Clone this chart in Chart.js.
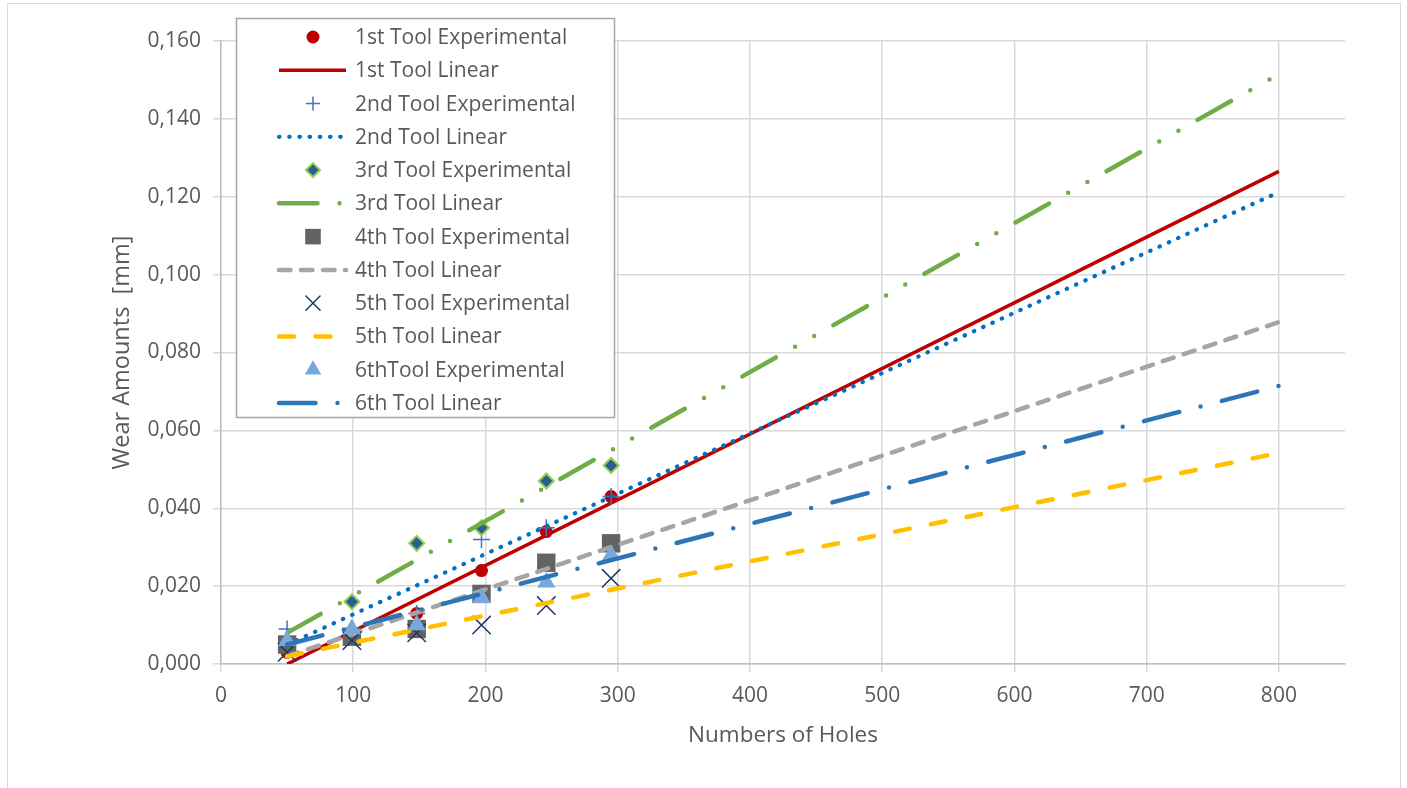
<!DOCTYPE html>
<html>
<head>
<meta charset="utf-8">
<title>Wear Amounts vs Numbers of Holes</title>
<script src="https://cdn.jsdelivr.net/npm/chart.js@4.4.1/dist/chart.umd.min.js"></script>
<style>
  html, body { margin: 0; padding: 0; background: #fff; overflow: hidden; }
  #frame { position: absolute; left: 7px; top: 3px; width: 1392px; height: 800px; border: 1px solid #D9D9D9; }
  canvas { position: absolute; left: 0; top: 0; }
</style>
</head>
<body>
<div id="frame"></div>
<canvas id="wearChart" width="1407" height="788"></canvas>
<script>
// Measured points (numbers of holes -> wear in mm)
const holes = [50, 99, 148, 197, 246, 295];
const tool1 = [0.003, 0.007, 0.013, 0.024, 0.034, 0.043];
const tool2 = [0.009, 0.008, 0.013, 0.032, 0.035, 0.043];
const tool3 = [0.006, 0.016, 0.031, 0.035, 0.047, 0.051];
const tool4 = [0.005, 0.007, 0.009, 0.018, 0.026, 0.031];
const tool5 = [0.003, 0.006, 0.008, 0.010, 0.015, 0.022];
const tool6 = [0.006, 0.009, 0.010, 0.017, 0.021, 0.028];

// Linear trend lines, read at both ends
const fitX = [50, 800];
const fit1 = [0.000, 0.1265];
const fit2 = [0.005, 0.1212];
const fit3 = [0.008, 0.1515];
const fit4 = [0.002, 0.0878];
const fit5 = [0.002, 0.0542];
const fit6 = [0.005, 0.0714];

const xTicks = [0, 100, 200, 300, 400, 500, 600, 700, 800];

const pts = (xs, ys) => xs.map((x, i) => ({ x: x, y: ys[i] }));

const marker = (label, ys, style, fill, stroke, bw, r, legendR) => ({
    label: label,
    data: pts(holes, ys),
    showLine: false,
    pointStyle: style,
    backgroundColor: fill,
    borderColor: stroke,
    borderWidth: bw,
    pointRadius: r,
    pointHoverRadius: r,
    pointBorderWidth: bw,
    legendRadius: legendR
});

const trend = (label, ys, color, width, dash) => ({
    label: label,
    data: pts(fitX, ys),
    showLine: true,
    borderColor: color,
    backgroundColor: color,
    borderWidth: width,
    borderDash: dash,
    borderCapStyle: dash.length ? 'round' : 'butt',
    pointRadius: 0,
    pointHoverRadius: 0
});

const datasets = [
    marker('1st Tool Experimental', tool1, 'circle', '#C00000', '#C00000', 0, 6.5, 6.5),
    trend('1st Tool Linear', fit1, '#C00000', 3.5, []),
    marker('2nd Tool Experimental', tool2, 'cross', '#4472C4', '#4472C4', 1.5, 8.5, 7),
    trend('2nd Tool Linear', fit2, '#0070C0', 4.2, [0.5, 9.7]),
    marker('3rd Tool Experimental', tool3, 'rectRot', '#2B5C94', '#92D050', 2, 7.5, 7),
    trend('3rd Tool Linear', fit3, '#70AD47', 4.5, [38.5, 22, 0, 22, 0, 22]),
    marker('4th Tool Experimental', tool4, 'rect', '#636363', '#636363', 0, 13, 11),
    trend('4th Tool Linear', fit4, '#A5A5A5', 4.5, [11.5, 10.5]),
    marker('5th Tool Experimental', tool5, 'crossRot', '#203864', '#203864', 1.5, 13, 10),
    trend('5th Tool Linear', fit5, '#FFC000', 4.5, [15, 21.5]),
    marker('6thTool Experimental', tool6, 'triangle', '#78A8DC', '#78A8DC', 0, 10.5, 9.5),
    trend('6th Tool Linear', fit6, '#2E75B6', 4.5, [36.5, 22, 0, 22])
];
// later series on top, as in the source chart
datasets.forEach((ds, i) => { ds.order = datasets.length - i; });

const textGrey = '#595959';
const fontFamily = '"Open Sans", "Noto Sans", sans-serif';

// Boxed legend inside the plot
const boxLegend = {
    id: 'boxLegend',
    afterDraw(chart) {
        const ctx = chart.ctx;
        ctx.save();
        ctx.fillStyle = '#fff';
        ctx.fillRect(236, 18, 379, 400);
        ctx.strokeStyle = '#A6A6A6';
        ctx.lineWidth = 1.5;
        ctx.strokeRect(236.5, 18.5, 378, 399);

        chart.data.datasets.forEach((ds, i) => {
            const y = 37 + i * 33.27;
            if (ds.showLine) {
                ctx.beginPath();
                ctx.setLineDash(ds.borderDash);
                ctx.lineCap = ds.borderCapStyle;
                ctx.strokeStyle = ds.borderColor;
                ctx.lineWidth = ds.borderWidth;
                ctx.moveTo(279, y);
                ctx.lineTo(346, y);
                ctx.stroke();
                ctx.setLineDash([]);
            } else {
                ctx.fillStyle = ds.backgroundColor;
                ctx.strokeStyle = ds.borderColor;
                ctx.lineWidth = ds.borderWidth;
                Chart.helpers.drawPoint(ctx, {
                    pointStyle: ds.pointStyle,
                    radius: ds.legendRadius,
                    rotation: 0,
                    borderWidth: ds.borderWidth
                }, 313, y);
            }
            ctx.fillStyle = textGrey;
            ctx.font = '21px ' + fontFamily;
            ctx.textAlign = 'left';
            ctx.textBaseline = 'middle';
            ctx.fillText(ds.label, 355, y + 1);
        });
        ctx.restore();
    }
};

new Chart(document.getElementById('wearChart'), {
    type: 'scatter',
    data: { datasets: datasets },
    options: {
        responsive: false,
        animation: false,
        devicePixelRatio: 1,
        layout: { padding: { left: 0, top: 41, right: 62, bottom: 0 } },
        plugins: {
            legend: { display: false },
            tooltip: { enabled: false }
        },
        scales: {
            x: {
                type: 'linear',
                min: 0,
                max: 850,
                afterFit: (scale) => { scale.height = 124; },
                afterBuildTicks: (scale) => { scale.ticks = xTicks.map(v => ({ value: v })); },
                ticks: {
                    stepSize: 100,
                    includeBounds: false,
                    color: textGrey,
                    padding: 11,
                    font: { family: fontFamily, size: 21 }
                },
                grid: { color: '#D9D9D9', lineWidth: 1.5, tickLength: 8 },
                border: { color: '#BFBFBF', width: 1.5 },
                title: {
                    display: true,
                    text: 'Numbers of Holes',
                    color: textGrey,
                    font: { family: fontFamily, size: 22.5 },
                    padding: { top: 0, bottom: 39 }
                }
            },
            y: {
                type: 'linear',
                min: 0,
                max: 0.16,
                afterFit: (scale) => { scale.width = 221; },
                ticks: {
                    stepSize: 0.02,
                    color: textGrey,
                    padding: 12,
                    font: { family: fontFamily, size: 21 },
                    callback: (v) => v.toFixed(3).replace('.', ',')
                },
                grid: { color: '#D9D9D9', lineWidth: 1.5, tickLength: 8 },
                border: { color: '#BFBFBF', width: 1.5 },
                title: {
                    display: true,
                    text: 'Wear Amounts  [mm]',
                    color: textGrey,
                    font: { family: fontFamily, size: 23.5 },
                    padding: { top: 108, bottom: 0 }
                }
            }
        }
    },
    plugins: [boxLegend]
});
</script>
</body>
</html>
